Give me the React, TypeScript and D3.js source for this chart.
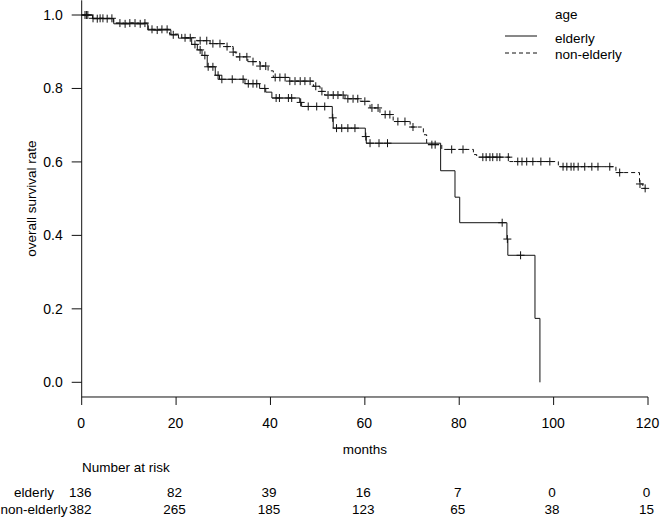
import React from 'react';
import * as d3 from 'd3';

// Kaplan-Meier steps: [month, survival after the drop]
const elderlySteps: [number, number][] = [
  [0, 1.0], [2.3, 0.99], [6.8, 0.976], [14.0, 0.959], [18.9, 0.946], [20.5, 0.937],
  [23.3, 0.92], [24.5, 0.905], [25.5, 0.89], [26.6, 0.859], [28.3, 0.836], [29.2, 0.825],
  [34.6, 0.813], [37.7, 0.8], [39.0, 0.79], [40.3, 0.774], [46.2, 0.762], [46.6, 0.751],
  [53.1, 0.72], [53.3, 0.692], [60.1, 0.669], [60.3, 0.651], [76.06, 0.576], [79.1, 0.504],
  [80.1, 0.4345], [90.1, 0.39], [90.3, 0.3458], [96.05, 0.174], [97.1, 0.0],
];
const elderlyEnd = 97.1;
const elderlyCensored = [
  1.0, 3.3, 5.4, 9.2, 12.4, 16.0, 19.4, 24.0, 25.1, 26.1, 26.8, 27.8, 28.9, 29.7, 31.9,
  34.2, 35.3, 36.3, 37.1, 38.8, 41.2, 41.9, 43.8, 44.5, 46.4, 48.0, 49.8, 51.5, 53.2,
  54.0, 55.1, 56.4, 57.9, 60.2, 61.1, 63.0, 64.8, 89.1, 90.2, 93.0,
];

const nonElderlySteps: [number, number][] = [
  [0, 1.0], [2.3, 0.991], [6.7, 0.978], [14.1, 0.961], [18.6, 0.948], [21.2, 0.938],
  [24.4, 0.93], [27.2, 0.922], [30.4, 0.914], [32.1, 0.899], [32.7, 0.886], [35.2, 0.873],
  [37.8, 0.861], [39.5, 0.848], [40.6, 0.83], [44.0, 0.82], [49.1, 0.806], [50.5, 0.792],
  [51.5, 0.782], [55.8, 0.772], [59.0, 0.765], [61.1, 0.747], [63.2, 0.729], [66.0, 0.71],
  [69.6, 0.695], [72.4, 0.674], [73.1, 0.647], [76.3, 0.634], [83.0, 0.62], [83.7, 0.613],
  [90.7, 0.601], [101.0, 0.587], [113.2, 0.571], [118.2, 0.54], [118.9, 0.528],
];
const nonElderlyEnd = 119.5;
const nonElderlyCensored = [
  0.7, 1.3, 2.4, 3.9, 4.5, 6.4, 8.1, 10.2, 11.3, 13.4, 14.9, 17.0, 18.1, 21.9, 23.0,
  25.1, 26.5, 27.8, 29.3, 30.8, 32.1, 33.5, 35.0, 36.3, 37.8, 39.0, 41.0, 42.0, 43.1,
  44.1, 45.2, 46.3, 47.3, 48.4, 49.6, 50.9, 52.2, 53.3, 54.3, 55.4, 56.4, 57.5, 58.5,
  60.0, 61.5, 62.8, 64.3, 65.3, 67.0, 68.5, 70.2, 74.2, 74.9, 78.4, 80.8, 85.0, 85.7,
  86.5, 87.1, 88.0, 88.6, 90.4, 92.4, 93.3, 94.3, 95.6, 97.3, 99.2, 102.0, 102.8, 103.7,
  104.3, 105.2, 106.6, 108.1, 109.4, 111.9, 114.0, 118.3, 119.4,
];

const xTicks = [0, 20, 40, 60, 80, 100, 120];
const yTicks = [0, 0.2, 0.4, 0.6, 0.8, 1.0];
const riskGroups = ['elderly', 'non-elderly'];
const elderlyRisk = [136, 82, 39, 16, 7, 0, 0];
const nonElderlyRisk = [382, 265, 185, 123, 65, 38, 15];

const FONT = '"Liberation Sans", Arial, sans-serif';
const INK = '#111';

function survivalAt(steps: [number, number][], t: number) {
  let s = steps[0][1];
  for (const [time, v] of steps) {
    if (time <= t) s = v;
    else break;
  }
  return s;
}

export default function App() {
  const x = d3.scaleLinear().domain([0, 120]).range([81.7, 648]);
  const y = d3.scaleLinear().domain([0, 1]).range([382.3, 15]);
  const fmt = d3.format('.1f');

  const line = d3
    .line<[number, number]>()
    .x((d) => x(d[0]))
    .y((d) => y(d[1]))
    .curve(d3.curveStepAfter);

  const curves = [
    { steps: elderlySteps, end: elderlyEnd, censored: elderlyCensored, dash: undefined },
    { steps: nonElderlySteps, end: nonElderlyEnd, censored: nonElderlyCensored, dash: '4,3' },
  ];

  const yTop = y(1.04);
  const yBottom = y(-0.04);

  return (
    <svg
      width={660}
      height={517}
      style={{ position: 'absolute', left: 0, top: 0, background: '#fff' }}
      fontFamily={FONT}
      fontSize={13.5}
    >
      {/* axes */}
      <line x1={x(0)} x2={x(0)} y1={yTop} y2={yBottom} stroke={INK} />
      <line x1={x(0)} x2={x(120)} y1={yBottom} y2={yBottom} stroke={INK} />
      {yTicks.map((t) => (
        <g key={'y' + t}>
          <line x1={x(0) - 10} x2={x(0)} y1={y(t)} y2={y(t)} stroke={INK} />
          <text x={x(0) - 19} y={y(t) + 5} textAnchor="end" fontSize={14}>
            {fmt(t)}
          </text>
        </g>
      ))}
      {xTicks.map((t) => (
        <g key={'x' + t}>
          <line x1={x(t)} x2={x(t)} y1={yBottom} y2={yBottom + 8} stroke={INK} />
          <text x={x(t) - 0.5} y={428} textAnchor="middle" fontSize={14}>
            {t}
          </text>
        </g>
      ))}
      <text x={x(60)} y={454} textAnchor="middle">months</text>
      <text
        transform={`translate(36,${(yTop + yBottom) / 2}) rotate(-90)`}
        textAnchor="middle"
      >
        overall survival rate
      </text>

      {/* survival curves with censoring marks */}
      {curves.map((c, i) => {
        const pts: [number, number][] = [...c.steps, [c.end, c.steps[c.steps.length - 1][1]]];
        return (
          <g key={'c' + i}>
            <path d={line(pts) || ''} fill="none" stroke={INK} strokeWidth={1} strokeDasharray={c.dash} />
            {c.censored.map((t, j) => {
              const cx = x(t);
              const cy = y(survivalAt(c.steps, t));
              return (
                <path
                  key={j}
                  d={`M${cx - 4},${cy}H${cx + 4}M${cx},${cy - 4}V${cy + 4}`}
                  stroke={INK}
                  strokeWidth={1}
                />
              );
            })}
          </g>
        );
      })}

      {/* legend */}
      <text x={555} y={19}>age</text>
      <line x1={505} x2={537} y1={36} y2={36} stroke={INK} />
      <text x={555} y={43}>{riskGroups[0]}</text>
      <line x1={505} x2={537} y1={53} y2={53} stroke={INK} strokeDasharray="4,3" />
      <text x={555} y={59}>{riskGroups[1]}</text>

      {/* number at risk table */}
      <text x={82} y={472}>Number at risk</text>
      {[elderlyRisk, nonElderlyRisk].map((row, r) => (
        <g key={'r' + r}>
          <text x={34} y={497 + r * 17} textAnchor="middle">
            {riskGroups[r]}
          </text>
          {row.map((n, k) => (
            <text key={k} x={x(xTicks[k]) - 1.5} y={497 + r * 17} textAnchor="middle">
              {n}
            </text>
          ))}
        </g>
      ))}
    </svg>
  );
}
